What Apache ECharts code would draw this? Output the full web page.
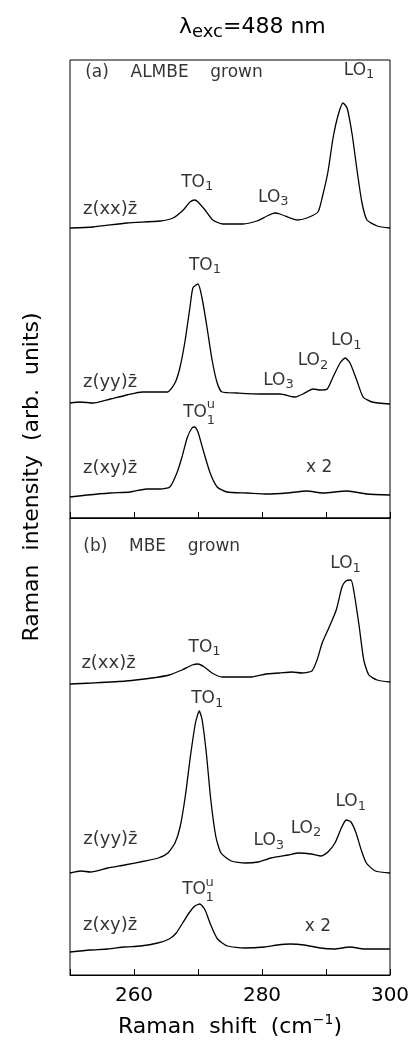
<!DOCTYPE html>
<html><head><meta charset="utf-8">
<script src="https://cdn.jsdelivr.net/npm/echarts@6/dist/echarts.min.js"></script>
<style>html,body{margin:0;padding:0;background:#fff}#c{width:416px;height:1040px}</style>
</head><body><div id="c"></div>
<script>
// ---- axis ----
const shiftMin = 250, shiftMax = 300, shiftStep = 10;
const tickLabels = ['260', '280', '300'];

// ---- (a) ALMBE grown ----
const aXX_shift = [250, 253.6, 258.9, 264.1, 266.1, 267.7, 268.75, 269.5, 270.0, 271.1, 272.3, 273.9, 277.0, 279.2, 280.8, 282.0, 282.8, 284.4, 285.5, 287.0, 288.75, 289.5, 290.3, 291.1, 291.9, 292.65, 293.3, 294.1, 294.8, 295.6, 296.4, 298.0, 300];
const aXX_int   = [290, 291, 295, 297, 300, 308, 316, 318, 316, 308, 298, 294, 294, 297, 302, 305, 304, 300, 298, 300, 306, 323, 346, 380, 403, 415, 410, 383, 350, 316, 298, 292, 290];

const aYY_shift = [250, 251.6, 253.6, 256.3, 258.9, 261.3, 263.0, 265.2, 266.4, 267.2, 268.0, 268.75, 269.2, 270.0, 270.6, 271.4, 272.2, 273.0, 273.75, 276.1, 279.7, 282.8, 285.2, 286.4, 288.0, 289.1, 290.2, 291.1, 292.2, 293.0, 293.75, 294.8, 295.8, 297.2, 300];
const aYY_int   = [115, 116, 115, 119, 123, 126, 126, 126, 135, 151, 178, 211, 230, 234, 221, 191, 158, 135, 126, 125, 124, 124, 121, 124, 129, 128, 129, 141, 155, 160, 155, 138, 121, 116, 114];

const aXY_shift = [250, 252.7, 256.3, 259.4, 262.0, 264.1, 265.6, 266.7, 267.5, 268.3, 269.05, 269.5, 270.0, 270.8, 271.9, 273.0, 274.5, 277.7, 280.8, 283.9, 287.0, 289.5, 293.3, 296.4, 300];
const aXY_int   = [21, 23, 25, 26, 29, 29, 31, 45, 61, 80, 90, 91, 86, 68, 45, 31, 26, 25, 24, 25, 27, 25, 27, 24, 23];

// ---- (b) MBE grown ----
const bXX_shift = [250, 253.4, 258.75, 262.8, 265.5, 267.5, 269.1, 270.0, 271.0, 272.2, 273.75, 276.4, 278.4, 280.6, 282.7, 284.7, 286.25, 287.8, 288.6, 289.4, 290.5, 291.6, 292.5, 293.1, 293.9, 294.4, 295.2, 295.9, 296.7, 298.0, 300];
const bXX_int   = [291, 292, 294, 297, 300, 305, 310, 311, 308, 302, 298, 298, 298, 301, 302, 303, 302, 304, 315, 332, 348, 365, 388, 394, 395, 382, 348, 315, 300, 295, 293];

const bYY_shift = [250, 251.7, 253.2, 255.9, 258.5, 261.7, 263.8, 265.3, 266.4, 267.2, 268.0, 268.8, 269.6, 270.2, 270.65, 271.3, 272.0, 272.8, 273.6, 275.2, 277.4, 279.4, 281.4, 284.1, 285.7, 287.7, 289.25, 290.3, 291.4, 292.4, 293.15, 293.9, 294.7, 295.5, 296.3, 297.7, 300];
const bYY_int   = [102, 104, 103, 107, 110, 114, 117, 122, 132, 148, 178, 218, 252, 264, 255, 222, 175, 138, 122, 114, 112, 113, 117, 120, 122, 121, 119, 123, 132, 147, 155, 153, 142, 125, 112, 104, 102];

const bXY_shift = [250, 253.1, 255.9, 258.5, 261.0, 263.7, 265.5, 266.6, 267.6, 268.6, 269.5, 270.3, 271.1, 272.0, 273.05, 274.6, 277.3, 280.4, 282.4, 284.4, 286.6, 289.1, 291.25, 293.75, 296.0, 300];
const bXY_int   = [23, 25, 26, 28, 29, 32, 36, 42, 52, 62, 69, 71, 65, 50, 36, 29, 27, 28, 30, 31, 30, 27, 26, 28, 26, 26];

// ---- annotations: [text, shift, intensity] ----
const annotA = [
  ['(a)    ALMBE    grown', 252.3, 445.5],
  ['LO|1', 292.7, 447.5],
  ['TO|1', 267.3, 335.5],
  ['LO|3', 279.3, 320.5],
  ['z(xx)z\u0304', 251.95, 309],
  ['TO|1', 268.5, 252.5],
  ['z(yy)z\u0304', 251.95, 135.5],
  ['LO|3', 280.1, 137.5],
  ['LO|2', 285.5, 157],
  ['LO|1', 290.7, 177],
  ['TO', 267.6, 105],
  ['^u', 271.3, 113],
  ['_1', 271.3, 97],
  ['z(xy)z\u0304', 251.95, 50],
  ['x 2', 286.8, 50]
];
const annotB = [
  ['(b)    MBE    grown', 252.0, 428.5],
  ['LO|1', 290.6, 411],
  ['TO|1', 268.45, 327.5],
  ['z(xx)z\u0304', 251.7, 312],
  ['TO|1', 268.85, 276],
  ['z(yy)z\u0304', 252.0, 135.5],
  ['LO|3', 278.6, 134],
  ['LO|2', 284.4, 146.5],
  ['LO|1', 291.4, 173],
  ['TO', 267.45, 85],
  ['^u', 271.1, 92],
  ['_1', 271.1, 77],
  ['z(xy)z\u0304', 251.95, 50],
  ['x 2', 286.6, 48]
];

const F = 'DejaVu Sans';
const INK = '#000';

const RICH = {
  m:   {fontSize: 17, fontFamily: F, color: INK, lineHeight: 22},
  sub: {fontSize: 13, fontFamily: F, color: INK, lineHeight: 12, verticalAlign: 'bottom'},
  z:   {fontSize: 18, fontFamily: F, color: INK, lineHeight: 22},
  sm:  {fontSize: 13, fontFamily: F, color: INK, lineHeight: 14}
};

function toRich(t) {
  if (t[0] === '^' || t[0] === '_') return '{sm|' + t.slice(1) + '}';
  if (t.indexOf('|') >= 0) { const p = t.split('|'); return '{m|' + p[0] + '}{sub|' + p[1] + '}'; }
  if (t.indexOf('z(') === 0) return '{z|' + t + '}';
  return '{m|' + t + '}';
}

function pairs(xs, ys) { return xs.map((x, i) => [x, ys[i]]); }

function lineSeries(xs, ys, gi) {
  return {
    type: 'line', xAxisIndex: gi, yAxisIndex: gi,
    data: pairs(xs, ys), showSymbol: false, symbol: 'none', smooth: 0.2,
    lineStyle: {color: INK, width: 1.3}, silent: true, animation: false
  };
}

function labelSeries(annots, gi) {
  return {
    type: 'scatter', xAxisIndex: gi, yAxisIndex: gi, silent: true, animation: false,
    symbolSize: 1, itemStyle: {color: 'rgba(0,0,0,0)'},
    data: annots.map(a => [a[1], a[2], a[0]]),
    label: {show: true, position: 'right', distance: 0, color: INK, formatter: p => toRich(p.data[2]), rich: RICH},
    z: 5
  };
}

function xAx(gi, withLabels) {
  return {
    type: 'value', gridIndex: gi, min: shiftMin, max: shiftMax, interval: shiftStep,
    axisLine: {show: true, lineStyle: {color: INK, width: 1}},
    axisTick: {show: true, inside: true, length: 6, lineStyle: {color: INK, width: 1}},
    splitLine: {show: false},
    axisLabel: withLabels ? {
      show: true, margin: 11, color: INK, fontSize: 20, fontFamily: F,
      formatter: v => tickLabels.indexOf(String(v)) >= 0 ? String(v) : ''
    } : {show: false},
    name: withLabels ? 'Raman  shift  (cm{sup|\u22121})' : '',
    nameLocation: 'middle', nameGap: 38,
    nameTextStyle: {
      fontSize: 22, fontFamily: F, color: INK, lineHeight: 28,
      rich: {sup: {fontSize: 14, fontFamily: F, color: INK, lineHeight: 14, verticalAlign: 'top'}}
    }
  };
}

const chart = echarts.init(document.getElementById('c'), null, {renderer: 'canvas'});
chart.setOption({
  animation: false,
  backgroundColor: '#fff',
  title: {
    text: '{l|\u03bb}{s|exc}{l|=488 nm}',
    left: 174, top: 8,
    textStyle: {
      fontWeight: 'normal', color: INK,
      rich: {
        l: {fontSize: 22, fontFamily: F, color: INK, fontWeight: 'normal', lineHeight: 28},
        s: {fontSize: 18, fontFamily: F, color: INK, fontWeight: 'normal', lineHeight: 18, verticalAlign: 'bottom'}
      }
    }
  },
  grid: [
    {left: 70, right: 26, top: 60, height: 458, show: true, borderColor: INK, borderWidth: 1, backgroundColor: 'transparent', outerBoundsMode: 'none', containLabel: false},
    {left: 70, right: 26, top: 518, height: 457, show: true, borderColor: INK, borderWidth: 1, backgroundColor: 'transparent', outerBoundsMode: 'none', containLabel: false}
  ],
  xAxis: [xAx(0, false), xAx(1, true)],
  yAxis: [
    {type: 'value', gridIndex: 0, min: 0, max: 458, show: false},
    {type: 'value', gridIndex: 1, min: 0, max: 457, show: false}
  ],
  graphic: [{
    type: 'text', x: 32, y: 477, rotation: Math.PI / 2,
    style: {text: 'Raman  intensity  (arb.  units)', fontSize: 22, fontFamily: F, fill: INK, align: 'center', verticalAlign: 'middle'}
  }],
  series: [
    lineSeries(aXX_shift, aXX_int, 0),
    lineSeries(aYY_shift, aYY_int, 0),
    lineSeries(aXY_shift, aXY_int, 0),
    lineSeries(bXX_shift, bXX_int, 1),
    lineSeries(bYY_shift, bYY_int, 1),
    lineSeries(bXY_shift, bXY_int, 1),
    labelSeries(annotA, 0),
    labelSeries(annotB, 1)
  ]
});
</script>
</body></html>
